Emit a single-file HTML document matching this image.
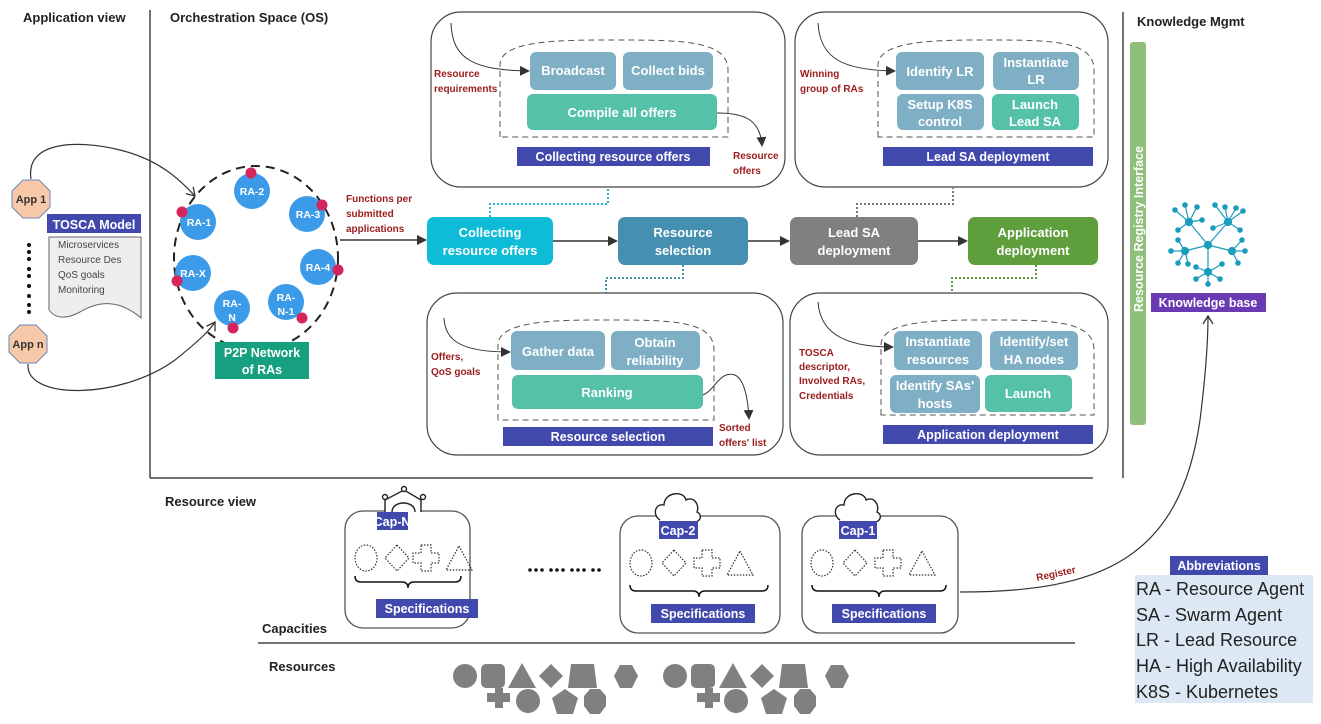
<!DOCTYPE html>
<html><head><meta charset="utf-8"><style>
html,body{margin:0;padding:0;background:#fff;}
svg{display:block;font-family:"Liberation Sans",sans-serif;}
.h{font-weight:bold;font-size:13px;fill:#222;}
.w{fill:#fff;font-weight:bold;font-size:13px;text-anchor:middle;}
.r{fill:#9b1c1c;font-weight:bold;font-size:10px;}
.lab{fill:#fff;font-weight:bold;font-size:12.5px;text-anchor:middle;}
</style></head><body>
<svg width="1321" height="724" viewBox="0 0 1321 724" xmlns="http://www.w3.org/2000/svg">
<defs>
<marker id="ar" markerWidth="10" markerHeight="10" refX="8" refY="5" orient="auto" markerUnits="userSpaceOnUse"><path d="M0,0 L10,5 L0,10 z" fill="#333"/></marker>
<marker id="oa" markerWidth="12" markerHeight="12" refX="9" refY="6" orient="auto" markerUnits="userSpaceOnUse"><path d="M1,1 L9,6 L1,11" fill="none" stroke="#333" stroke-width="1.3"/></marker>
</defs>
<text x="23" y="22" class="h">Application view</text>
<text x="170" y="22" class="h">Orchestration Space (OS)</text>
<text x="1137" y="26" class="h">Knowledge Mgmt</text>
<text x="165" y="506" class="h">Resource view</text>
<text x="262" y="633" class="h">Capacities</text>
<text x="269" y="671" class="h">Resources</text>
<line x1="150" y1="10" x2="150" y2="478" stroke="#444" stroke-width="1.5"/>
<line x1="1123" y1="12" x2="1123" y2="478" stroke="#444" stroke-width="1.5"/>
<line x1="150" y1="478" x2="1093" y2="478" stroke="#444" stroke-width="1.5"/>
<line x1="258" y1="643" x2="1075" y2="643" stroke="#444" stroke-width="1.5"/>

<path d="M31,179 C25,140 80,140 120,150 C160,160 180,180 195,196" fill="none" stroke="#333" stroke-width="1.2" marker-end="url(#oa)"/>
<path d="M28,364 C25,400 120,400 175,360 C200,340 210,330 215,322" fill="none" stroke="#333" stroke-width="1.2" marker-end="url(#oa)"/>
<polygon points="23,180 39,180 50,191 50,207 39,218 23,218 12,207 12,191" fill="#f8c9a8" stroke="#6d87b8"/>
<text x="31" y="203" text-anchor="middle" font-size="11" font-weight="bold" fill="#333">App 1</text>
<polygon points="20,325 36,325 47,336 47,352 36,363 20,363 9,352 9,336" fill="#f8c9a8" stroke="#6d87b8"/>
<text x="28" y="348" text-anchor="middle" font-size="11" font-weight="bold" fill="#333">App n</text>
<g fill="#111"><circle cx="29" cy="245" r="2"/><circle cx="29" cy="252" r="2"/><circle cx="29" cy="259" r="2"/><circle cx="29" cy="269" r="2"/><circle cx="29" cy="276" r="2"/><circle cx="29" cy="286" r="2"/><circle cx="29" cy="296" r="2"/><circle cx="29" cy="305" r="2"/><circle cx="29" cy="312" r="2"/></g>
<rect x="47" y="214" width="94" height="19" fill="#4249ad"/>
<text x="94" y="229" class="lab" font-size="14">TOSCA Model</text>
<path d="M49,237 L141,237 L141,318 C120,300 100,300 80,312 C65,320 55,318 49,310 Z" fill="#eee" stroke="#666"/>
<g font-size="10" fill="#444"><text x="58" y="248">Microservices</text><text x="58" y="263">Resource Des</text><text x="58" y="278">QoS goals</text><text x="58" y="293">Monitoring</text></g>

<ellipse cx="256" cy="258" rx="82" ry="92" fill="none" stroke="#222" stroke-width="2" stroke-dasharray="9,6"/>
<g fill="#3b9be8">
<circle cx="252" cy="191" r="18"/><circle cx="307" cy="214" r="18"/><circle cx="318" cy="267" r="18"/><circle cx="286" cy="302" r="18"/><circle cx="232" cy="308" r="18"/><circle cx="193" cy="273" r="18"/><circle cx="198" cy="222" r="18"/></g>
<g fill="#fff" font-size="10.5" font-weight="bold" text-anchor="middle">
<text x="252" y="195">RA-2</text><text x="308" y="218">RA-3</text><text x="318" y="271">RA-4</text><text x="286" y="301">RA-</text><text x="286" y="315">N-1</text><text x="232" y="307">RA-</text><text x="232" y="321">N</text><text x="193" y="277">RA-X</text><text x="199" y="226">RA-1</text></g>
<g fill="#d6245d"><circle cx="251" cy="173" r="5.5"/><circle cx="322" cy="205" r="5.5"/><circle cx="338" cy="270" r="5.5"/><circle cx="302" cy="318" r="5.5"/><circle cx="233" cy="328" r="5.5"/><circle cx="177" cy="281" r="5.5"/><circle cx="182" cy="212" r="5.5"/></g>
<rect x="215" y="342" width="94" height="37" fill="#17a07f"/>
<text x="262" y="357" class="lab" font-size="13">P2P Network</text>
<text x="262" y="374" class="lab" font-size="13">of RAs</text>
<text x="346" y="202" class="r">Functions per</text>
<text x="346" y="217" class="r">submitted</text>
<text x="346" y="232" class="r">applications</text>
<line x1="340" y1="240" x2="425" y2="240" stroke="#333" stroke-width="1.5" marker-end="url(#ar)"/>

<rect x="427" y="217" width="126" height="48" rx="7" fill="#0fbcd8"/>
<text x="490" y="237" class="w">Collecting</text><text x="490" y="255" class="w">resource offers</text>
<rect x="618" y="217" width="130" height="48" rx="7" fill="#458fb0"/>
<text x="683" y="237" class="w">Resource</text><text x="683" y="255" class="w">selection</text>
<rect x="790" y="217" width="128" height="48" rx="7" fill="#808080"/>
<text x="854" y="237" class="w">Lead SA</text><text x="854" y="255" class="w">deployment</text>
<rect x="968" y="217" width="130" height="48" rx="7" fill="#5e9e3c"/>
<text x="1033" y="237" class="w">Application</text><text x="1033" y="255" class="w">deployment</text>
<line x1="553" y1="241" x2="616" y2="241" stroke="#333" stroke-width="1.5" marker-end="url(#ar)"/>
<line x1="748" y1="241" x2="788" y2="241" stroke="#333" stroke-width="1.5" marker-end="url(#ar)"/>
<line x1="918" y1="241" x2="966" y2="241" stroke="#333" stroke-width="1.5" marker-end="url(#ar)"/>
<path d="M490,217 V204 H608 V188" fill="none" stroke="#1fb6d6" stroke-width="2" stroke-dasharray="2,2"/>
<path d="M683,265 V278 H606 V293" fill="none" stroke="#458fb0" stroke-width="2" stroke-dasharray="2,2"/>
<path d="M857,217 V204 H953 V188" fill="none" stroke="#777" stroke-width="2" stroke-dasharray="2,2"/>
<path d="M1036,265 V278 H952 V293" fill="none" stroke="#5e9e3c" stroke-width="2" stroke-dasharray="2,2"/>

<rect x="431" y="12" width="354" height="175" rx="30" fill="none" stroke="#444" stroke-width="1.2"/>
<path d="M500,137 V65 C500,40 560,40 614,40 C680,40 728,40 728,70 V137 Z" fill="none" stroke="#555" stroke-dasharray="6,4"/>
<path d="M451,23 C452,60 475,70 528,71" fill="none" stroke="#333" marker-end="url(#ar)"/>
<text x="434" y="77" class="r">Resource</text><text x="434" y="92" class="r">requirements</text>
<rect x="530" y="52" width="86" height="38" rx="6" fill="#7fafc4"/><text x="573" y="75" class="w">Broadcast</text>
<rect x="623" y="52" width="90" height="38" rx="6" fill="#7fafc4"/><text x="668" y="75" class="w">Collect bids</text>
<rect x="527" y="94" width="190" height="36" rx="6" fill="#55c1a8"/><text x="622" y="117" class="w">Compile all offers</text>
<path d="M717,113 C745,113 760,120 762,145" fill="none" stroke="#333" marker-end="url(#ar)"/>
<rect x="517" y="147" width="193" height="19" fill="#4249ad"/><text x="613" y="161" class="lab">Collecting resource offers</text>
<text x="733" y="159" class="r">Resource</text><text x="733" y="174" class="r">offers</text>

<rect x="795" y="12" width="313" height="175" rx="30" fill="none" stroke="#444" stroke-width="1.2"/>
<path d="M878,137 V65 C878,40 940,40 985,40 C1050,40 1094,40 1094,70 V137 Z" fill="none" stroke="#555" stroke-dasharray="6,4"/>
<path d="M818,23 C820,60 845,70 894,71" fill="none" stroke="#333" marker-end="url(#ar)"/>
<text x="800" y="77" class="r">Winning</text><text x="800" y="92" class="r">group of RAs</text>
<rect x="896" y="52" width="88" height="38" rx="6" fill="#7fafc4"/><text x="940" y="76" class="w">Identify LR</text>
<rect x="993" y="52" width="86" height="38" rx="6" fill="#7fafc4"/><text x="1036" y="67" class="w">Instantiate</text><text x="1036" y="84" class="w">LR</text>
<rect x="897" y="94" width="87" height="36" rx="6" fill="#7fafc4"/><text x="940" y="109" class="w">Setup K8S</text><text x="940" y="126" class="w">control</text>
<rect x="992" y="94" width="87" height="36" rx="6" fill="#55c1a8"/><text x="1035" y="109" class="w">Launch</text><text x="1035" y="126" class="w">Lead SA</text>
<rect x="883" y="147" width="210" height="19" fill="#4249ad"/><text x="988" y="161" class="lab">Lead SA deployment</text>

<rect x="427" y="293" width="356" height="162" rx="30" fill="none" stroke="#444" stroke-width="1.2"/>
<path d="M498,420 V345 C498,320 560,320 605,320 C670,320 714,320 714,350 V420 Z" fill="none" stroke="#555" stroke-dasharray="6,4"/>
<path d="M444,318 C445,340 460,352 509,352" fill="none" stroke="#333" marker-end="url(#ar)"/>
<text x="431" y="360" class="r">Offers,</text><text x="431" y="375" class="r">QoS goals</text>
<rect x="511" y="331" width="94" height="39" rx="6" fill="#7fafc4"/><text x="558" y="356" class="w">Gather data</text>
<rect x="611" y="331" width="89" height="39" rx="6" fill="#7fafc4"/><text x="655" y="347" class="w">Obtain</text><text x="655" y="365" class="w">reliability</text>
<rect x="512" y="375" width="191" height="34" rx="6" fill="#55c1a8"/><text x="607" y="397" class="w">Ranking</text>
<path d="M703,395 C715,390 720,370 735,375 C745,380 748,400 749,418" fill="none" stroke="#333" marker-end="url(#ar)"/>
<rect x="503" y="427" width="210" height="19" fill="#4249ad"/><text x="608" y="441" class="lab">Resource selection</text>
<text x="719" y="431" class="r">Sorted</text><text x="719" y="446" class="r">offers' list</text>

<rect x="790" y="293" width="318" height="162" rx="30" fill="none" stroke="#444" stroke-width="1.2"/>
<path d="M881,415 V345 C881,320 940,320 985,320 C1050,320 1094,320 1094,350 V415 Z" fill="none" stroke="#555" stroke-dasharray="6,4"/>
<path d="M818,302 C820,330 840,347 892,347" fill="none" stroke="#333" marker-end="url(#ar)"/>
<text x="799" y="356" class="r">TOSCA</text><text x="799" y="370" class="r">descriptor,</text><text x="799" y="384" class="r">Involved RAs,</text><text x="799" y="399" class="r">Credentials</text>
<rect x="894" y="331" width="88" height="39" rx="6" fill="#7fafc4"/><text x="938" y="346" class="w">Instantiate</text><text x="938" y="364" class="w">resources</text>
<rect x="990" y="331" width="88" height="39" rx="6" fill="#7fafc4"/><text x="1034" y="346" class="w">Identify/set</text><text x="1034" y="364" class="w">HA nodes</text>
<rect x="890" y="375" width="90" height="38" rx="6" fill="#7fafc4"/><text x="935" y="390" class="w">Identify SAs'</text><text x="935" y="408" class="w">hosts</text>
<rect x="985" y="375" width="87" height="37" rx="6" fill="#55c1a8"/><text x="1028" y="398" class="w">Launch</text>
<rect x="883" y="425" width="210" height="19" fill="#4249ad"/><text x="988" y="439" class="lab">Application deployment</text>

<rect x="1130" y="42" width="16" height="383" rx="3" fill="#8fbf7a"/>
<text transform="translate(1143,312) rotate(-90)" fill="#fff" font-weight="bold" font-size="12.5">Resource Registry Interface</text>
<g stroke="#1a9cbd" stroke-width="1.2" fill="#1a9cbd">
<line x1="1208" y1="245" x2="1189" y2="222"/><line x1="1208" y1="245" x2="1228" y2="222"/><line x1="1208" y1="245" x2="1185" y2="251"/><line x1="1208" y1="245" x2="1232" y2="251"/><line x1="1208" y1="245" x2="1208" y2="272"/>
<line x1="1189" y1="222" x2="1175" y2="210"/><line x1="1189" y1="222" x2="1185" y2="205"/><line x1="1189" y1="222" x2="1197" y2="207"/><line x1="1189" y1="222" x2="1178" y2="230"/><line x1="1189" y1="222" x2="1202" y2="220"/>
<line x1="1228" y1="222" x2="1215" y2="205"/><line x1="1228" y1="222" x2="1225" y2="207"/><line x1="1228" y1="222" x2="1236" y2="208"/><line x1="1228" y1="222" x2="1243" y2="211"/><line x1="1228" y1="222" x2="1240" y2="230"/><line x1="1228" y1="222" x2="1213" y2="228"/>
<line x1="1185" y1="251" x2="1171" y2="251"/><line x1="1185" y1="251" x2="1178" y2="263"/><line x1="1185" y1="251" x2="1188" y2="264"/><line x1="1185" y1="251" x2="1178" y2="240"/>
<line x1="1232" y1="251" x2="1245" y2="251"/><line x1="1232" y1="251" x2="1238" y2="263"/><line x1="1232" y1="251" x2="1242" y2="240"/>
<line x1="1208" y1="272" x2="1208" y2="284"/><line x1="1208" y1="272" x2="1196" y2="279"/><line x1="1208" y1="272" x2="1220" y2="279"/><line x1="1208" y1="272" x2="1196" y2="267"/><line x1="1208" y1="272" x2="1222" y2="264"/>
<circle cx="1208" cy="245" r="3.5"/><circle cx="1189" cy="222" r="3.5"/><circle cx="1228" cy="222" r="3.5"/><circle cx="1185" cy="251" r="3.5"/><circle cx="1232" cy="251" r="3.5"/><circle cx="1208" cy="272" r="3.5"/>
<circle cx="1175" cy="210" r="2.2"/><circle cx="1185" cy="205" r="2.2"/><circle cx="1197" cy="207" r="2.2"/><circle cx="1178" cy="230" r="2.2"/><circle cx="1202" cy="220" r="2.2"/><circle cx="1215" cy="205" r="2.2"/><circle cx="1225" cy="207" r="2.2"/><circle cx="1236" cy="208" r="2.2"/><circle cx="1243" cy="211" r="2.2"/><circle cx="1240" cy="230" r="2.2"/><circle cx="1213" cy="228" r="2.2"/><circle cx="1171" cy="251" r="2.2"/><circle cx="1178" cy="263" r="2.2"/><circle cx="1188" cy="264" r="2.2"/><circle cx="1178" cy="240" r="2.2"/><circle cx="1245" cy="251" r="2.2"/><circle cx="1238" cy="263" r="2.2"/><circle cx="1242" cy="240" r="2.2"/><circle cx="1208" cy="284" r="2.2"/><circle cx="1196" cy="279" r="2.2"/><circle cx="1220" cy="279" r="2.2"/><circle cx="1196" cy="267" r="2.2"/><circle cx="1222" cy="264" r="2.2"/>
</g>
<rect x="1151" y="293" width="115" height="19" fill="#6a3ab3"/><text x="1208" y="307" class="lab" font-size="13">Knowledge base</text>
<path d="M960,592 C1100,592 1180,560 1200,420 C1205,380 1208,340 1208,316" fill="none" stroke="#333" stroke-width="1.2" marker-end="url(#oa)"/>
<text transform="translate(1037,581) rotate(-12)" class="r" font-size="11">Register</text>

<rect x="1135" y="575" width="178" height="128" fill="#dce8f4"/>
<rect x="1170" y="556" width="98" height="19" fill="#4249ad"/><text x="1219" y="570" class="lab" font-size="13">Abbreviations</text>
<g font-size="18" fill="#222"><text x="1136" y="595">RA - Resource Agent</text><text x="1136" y="621">SA - Swarm Agent</text><text x="1136" y="646">LR - Lead Resource</text><text x="1136" y="672">HA - High Availability</text><text x="1136" y="698">K8S - Kubernetes</text></g>

<rect x="345" y="511" width="125" height="117" rx="18" fill="none" stroke="#555" stroke-width="1.3"/>
<rect x="620" y="516" width="160" height="117" rx="18" fill="none" stroke="#555" stroke-width="1.3"/>
<rect x="802" y="516" width="156" height="117" rx="18" fill="none" stroke="#555" stroke-width="1.3"/>
<g fill="none" stroke="#333" stroke-width="1.2" stroke-dasharray="1.5,1.5">
<ellipse cx="366" cy="558" rx="11" ry="13"/><polygon points="397,545 409,558 397,571 385,558"/><path d="M421,545 h10 v8 h8 v10 h-8 v8 h-10 v-8 h-8 v-10 h8 z"/><polygon points="459,546 472,570 446,570"/>
<ellipse cx="641" cy="563" rx="11" ry="13"/><polygon points="674,550 686,563 674,576 662,563"/><path d="M702,550 h10 v8 h8 v10 h-8 v8 h-10 v-8 h-8 v-10 h8 z"/><polygon points="740,551 753,575 727,575"/>
<ellipse cx="822" cy="563" rx="11" ry="13"/><polygon points="855,550 867,563 855,576 843,563"/><path d="M883,550 h10 v8 h8 v10 h-8 v8 h-10 v-8 h-8 v-10 h8 z"/><polygon points="922,551 935,575 909,575"/>
</g>
<g fill="none" stroke="#111" stroke-width="1.5">
<path d="M355,576 q0,6 6,6 h41 q6,0 6,6 q0,-6 6,-6 h41 q6,0 6,-6"/>
<path d="M630,585 q0,6 6,6 h57 q6,0 6,6 q0,-6 6,-6 h57 q6,0 6,-6"/>
<path d="M812,585 q0,6 6,6 h55 q6,0 6,6 q0,-6 6,-6 h55 q6,0 6,-6"/>
</g>
<rect x="376" y="599" width="102" height="19" fill="#4249ad"/><text x="427" y="613" class="lab" font-size="13">Specifications</text>
<rect x="651" y="604" width="104" height="19" fill="#4249ad"/><text x="703" y="618" class="lab" font-size="13">Specifications</text>
<rect x="832" y="604" width="104" height="19" fill="#4249ad"/><text x="884" y="618" class="lab" font-size="13">Specifications</text>
<g fill="#fff" stroke="#222" stroke-width="1.4">
<path d="M385,512 V500 L404,490 L421,500 V512" /><path d="M392,512 C392,500 415,500 415,512"/>
<circle cx="404" cy="489" r="2.5"/><circle cx="385" cy="497" r="2.5"/><circle cx="423" cy="497" r="2.5"/>
<path d="M660,520 C652,515 655,503 664,505 C664,492 684,490 686,500 C694,496 700,505 697,512 C703,515 700,522 695,522"/>
<path d="M840,520 C832,515 835,503 844,505 C844,492 864,490 866,500 C874,496 880,505 877,512 C883,515 880,522 875,522"/>
</g>
<rect x="377" y="512" width="31" height="18" fill="#4249ad"/><text x="392" y="526" class="lab" font-size="12">Cap-N</text>
<rect x="659" y="521" width="39" height="18" fill="#4249ad"/><text x="678" y="535" class="lab" font-size="12">Cap-2</text>
<rect x="839" y="521" width="38" height="18" fill="#4249ad"/><text x="858" y="535" class="lab" font-size="12">Cap-1</text>
<g fill="#111"><circle cx="530" cy="570" r="1.8"/><circle cx="536" cy="570" r="1.8"/><circle cx="542" cy="570" r="1.8"/><circle cx="551" cy="570" r="1.8"/><circle cx="557" cy="570" r="1.8"/><circle cx="563" cy="570" r="1.8"/><circle cx="572" cy="570" r="1.8"/><circle cx="578" cy="570" r="1.8"/><circle cx="584" cy="570" r="1.8"/><circle cx="593" cy="570" r="1.8"/><circle cx="599" cy="570" r="1.8"/></g>

<g fill="#808080">
<ellipse cx="465" cy="676" rx="12" ry="12"/><rect x="481" y="664" width="24" height="24" rx="5"/><polygon points="522,663 536,688 508,688"/><polygon points="551,664 563,676 551,688 539,676"/><polygon points="571,664 594,664 597,688 568,688"/><polygon points="620,665 632,665 638,676 632,688 620,688 614,676"/>
<path d="M487,693 h8 v-5 h8 v5 h7 v9 h-7 v6 h-8 v-6 h-8 z"/><ellipse cx="528" cy="701" rx="12" ry="12"/><polygon points="565,689 578,698 573,714 557,714 552,698"/><polygon points="590,689 600,689 606,696 606,706 600,714 590,714 584,706 584,696"/>
<ellipse cx="675" cy="676" rx="12" ry="12"/><rect x="691" y="664" width="24" height="24" rx="5"/><polygon points="733,663 747,688 719,688"/><polygon points="762,664 774,676 762,688 750,676"/><polygon points="782,664 805,664 808,688 779,688"/><polygon points="831,665 843,665 849,676 843,688 831,688 825,676"/>
<path d="M697,693 h8 v-5 h8 v5 h7 v9 h-7 v6 h-8 v-6 h-8 z"/><ellipse cx="736" cy="701" rx="12" ry="12"/><polygon points="774,689 787,698 782,714 766,714 761,698"/><polygon points="800,689 810,689 816,696 816,706 810,714 800,714 794,706 794,696"/>
</g>
</svg>
</body></html>
